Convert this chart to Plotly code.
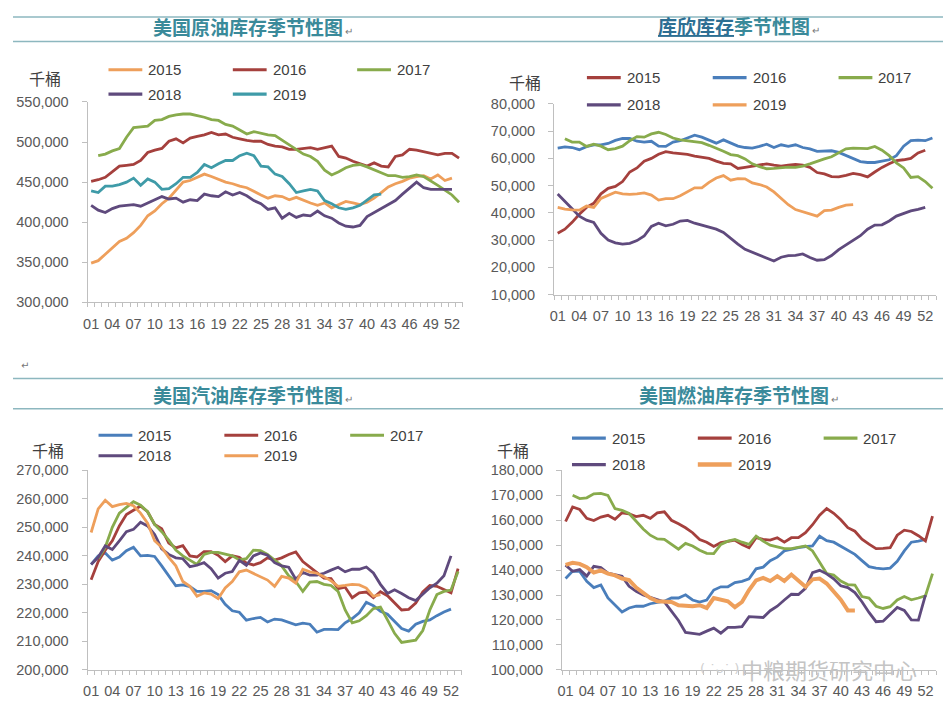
import plotly.graph_objects as go

# The page keeps the browser's default 8px body margin, so the figure is drawn
# 16px smaller than the window and every reference pixel is shifted by 8px.
WIN_W, WIN_H = 951, 719
PAD = 8
W, H = WIN_W - 2 * PAD, WIN_H - 2 * PAD

weeks = list(range(1, 54))
tick_vals = list(range(1, 53, 3))
tick_text = [f"{v:02d}" for v in tick_vals]
years = ["2015", "2016", "2017", "2018", "2019"]

# ---------------- US crude inventory (thousand barrels, read in thousands) -------------
crude_2015 = [349, 352, 360, 368, 376, 380, 387, 396, 408, 414, 423, 430, 440, 450, 452, 456, 460, 457, 453, 450,
              448, 445, 443, 438, 434, 430, 433, 432, 428, 431, 427, 424, 421, 424, 418, 422, 426, 424, 422, 425,
              430, 437, 444, 448, 451, 455, 457, 458, 454, 459, 452, 455]
crude_2016 = [451, 453, 456, 463, 470, 471, 472, 477, 487, 490, 492, 501, 504, 499, 505, 507, 509, 512, 509, 510,
              506, 504, 502, 501, 501, 497, 495, 494, 491, 491, 492, 493, 491, 493, 495, 482, 480, 476, 473, 470,
              474, 470, 469, 482, 484, 491, 490, 488, 486, 484, 486, 486, 480]
crude_2017 = [None, 483, 485, 489, 492, 506, 518, 519, 520, 527, 528, 532, 534, 535, 535, 533, 531, 528, 527, 522,
              520, 515, 510, 513, 511, 509, 508, 502, 496, 490, 485, 482, 476, 465, 459, 463, 468, 471, 472, 469,
              465, 461, 458, 458, 456, 457, 459, 457, 452, 446, 440, 434, 425]
crude_2018 = [421, 415, 412, 417, 420, 421, 422, 420, 424, 427, 432, 429, 430, 425, 428, 427, 435, 433, 432, 438,
              434, 437, 433, 427, 423, 416, 418, 405, 411, 406, 409, 408, 414, 408, 405, 399, 395, 394, 396, 407,
              412, 417, 421, 427, 435, 443, 450, 443, 441, 441, 441, 441]
crude_2019 = [439, 437, 445, 445, 447, 450, 455, 446, 454, 450, 441, 442, 448, 456, 456, 462, 472, 468, 473, 477,
              477, 483, 486, 483, 470, 469, 460, 457, 448, 437, 439, 441, 439, 427, 423, 418, 416, 418, 421, 427,
              434, 435]

# ---------------- Cushing inventory -------------
cush_2015 = [32.5, 34, 36.5, 39.5, 42, 43.5, 47, 49, 49.7, 51.5, 55, 56.5, 59, 60, 61.5, 62.5, 62, 61.8, 61.5, 60.8,
             60.5, 60, 59, 58.2, 58, 56.3, 56.7, 57.2, 57.6, 58, 57.5, 57.2, 57.5, 57.8, 57.5, 56.7, 54.8, 54.3, 53.3, 53.2,
             53.8, 54.5, 54, 53.2, 55, 56.7, 58, 59.2, 59.5, 60, 62, 63]
cush_2016 = [63.8, 64.2, 64, 63.2, 64.3, 65, 65, 65.5, 66.6, 67.3, 67.3, 66.3, 66, 66.3, 64.5, 64.4, 66, 66.5, 67.5, 68.5,
             67.8, 66.8, 65.6, 66.8, 65.6, 64.5, 64, 63.8, 64.4, 65.2, 64, 65, 64.4, 65, 64, 63.5, 62.6, 62.8, 62.8, 62.2,
             61, 60, 58.8, 58.5, 58.5, 59, 59.5, 61, 64.5, 66.5, 66.7, 66.5, 67.5]
cush_2017 = [None, 67.2, 66, 66, 64.4, 65.2, 64.5, 63.2, 63.6, 64.5, 66.5, 68, 67.8, 69, 69.6, 68.8, 67.5, 66.8, 66.5, 66.3,
             65.8, 64.8, 63.8, 62.6, 61.4, 61, 59.8, 58, 57, 56.2, 56.3, 56.6, 56.8, 56.7, 57.2, 58, 59, 59.8, 60.6, 62,
             63.5, 63.8, 63.6, 63.6, 64.4, 63, 61, 58.3, 56.5, 53, 53.3, 51.5, 49]
cush_2018 = [46.9, 44, 41.5, 38.8, 37.3, 36.5, 32.5, 30, 29, 28.5, 28.8, 29.8, 31.5, 35, 36.2, 35.2, 35.8, 37, 37.2, 36.2,
             35.4, 34.6, 34, 32.8, 30.6, 28.5, 26.6, 25.5, 24.6, 23.3, 22.3, 23.7, 24.3, 24.4, 24.9, 23.6, 22.6, 22.8, 24.3, 26.5,
             28.3, 29.8, 31.6, 34, 35.5, 35.6, 37, 38.8, 39.7, 40.7, 41.3, 42]
cush_2019 = [42, 41.4, 41.1, 41, 42.5, 42, 45.3, 46.5, 47.6, 47, 46.8, 47, 47.3, 46.5, 44.7, 45.2, 45.2, 46.3, 47.8, 49.2,
             49.2, 51.2, 52.8, 53.7, 52, 52.6, 52.5, 51, 50.4, 49.5, 47.7, 45.3, 43, 41.2, 40.4, 39.8, 38.8, 40.8, 41, 42,
             42.8, 43]

# ---------------- US gasoline inventory -------------
gas_2015 = [237, 240, 241, 238.5, 239.6, 241.8, 243, 240, 240.2, 239.8, 236.5, 233, 229.5, 229.8, 229.2, 227.5, 227.5, 227.8, 226.4, 223,
            220.7, 220.2, 217.4, 218, 218.4, 216.8, 217.8, 217.5, 216.6, 215.8, 216.4, 216, 213.2, 214.2, 214.2, 214.1, 216.5, 218, 220, 223.7,
            222.5, 220.5, 219.5, 217, 214.5, 213.6, 216, 217, 217.5, 219, 220.3, 221.3]
gas_2016 = [231.6, 238, 242, 245.3, 250.5, 254.5, 256, 257.5, 255.5, 251, 249.5, 244.5, 242.8, 243.6, 240, 239.6, 241.5, 241.5, 240.2, 238,
            240, 239.5, 237.5, 236.8, 237.6, 239.3, 238.5, 239.3, 240.5, 241.4, 238, 236, 234, 232.2, 232, 228.5, 229, 225.3, 227, 227.3,
            225.3, 227.4, 226, 223.5, 221, 221.2, 223.4, 227.3, 229.6, 229.3, 228.2, 227, 235.5]
gas_2017 = [None, 239, 243, 250, 255, 257, 259, 257.8, 255.5, 251, 248.5, 245.5, 242, 240, 238.5, 237, 240.5, 241.2, 241.2, 240.5,
            240, 238.6, 239, 242, 241.8, 240.5, 238.5, 236.5, 233, 231, 227.5, 230.8, 231, 230, 229.6, 227.5, 221, 216.5, 217.2, 219,
            221.5, 222, 217.5, 212.8, 209.6, 210.1, 210.4, 213.8, 221, 226.4, 227.5, 228, 234.5]
gas_2018 = [237, 239.5, 243.5, 242.2, 245.3, 248.5, 249.3, 251.8, 250.5, 247.5, 242.5, 240.5, 239.3, 239, 236.2, 236.7, 237.6, 235.5, 232.2, 233.9,
            234.5, 238.4, 236.7, 240, 241, 240.2, 237.6, 236.5, 236, 231.8, 234.2, 233.2, 233.2, 233.9, 235, 236, 234.4, 235.3, 235.3, 236.1,
            234, 230, 226.8, 228.1, 226.8, 225.3, 224.3, 226.4, 228.8, 230.4, 233, 240]
gas_2019 = [248.2, 256.5, 259.5, 257.3, 258, 258.4, 257.6, 255, 251.5, 245.3, 243, 239.5, 236.5, 231, 229.3, 225.8, 227, 226.6, 225, 228.7,
            231, 234.4, 235, 233.9, 232.8, 231.5, 229.3, 232.8, 232.2, 230.4, 235.3, 234.4, 233.9, 232.7, 231.2, 229.3, 229.6, 230, 229.8, 228.7,
            225.8, 226.4]

# ---------------- US distillate fuel oil inventory -------------
fuel_2015 = [136.6, 139.6, 139.5, 135.5, 133, 134, 128.8, 125.8, 123.2, 124.8, 125.5, 125.5, 126.5, 127, 127.5, 128.8, 128.8, 130.1, 128, 127.2,
             128, 132, 133.3, 133.3, 135, 135.5, 136.5, 140.5, 141.2, 143.8, 145.2, 147.7, 148.4, 149, 149.4, 149.7, 153.6, 151.8, 151.2, 149.5,
             148, 146.3, 143.8, 141.4, 140.8, 140.5, 140.8, 143.5, 147.7, 151.2, 151.6, 152.3]
fuel_2016 = [159.5, 165.3, 164.3, 160.8, 159.9, 161.3, 162, 160.4, 163, 162.6, 161.5, 162, 160.8, 163, 163.4, 160, 158.6, 157, 155, 152.3,
             151.2, 149.5, 151, 151.6, 152, 150.3, 149, 153, 152.3, 152, 153, 151.2, 153, 153, 155, 158.2, 162, 164.7, 162.8, 160.2,
             157, 155.6, 152.4, 150.4, 148.6, 148.7, 149, 154, 156, 155.5, 153.8, 151.7, 161.7]
fuel_2017 = [None, 170, 168.7, 169, 170.6, 170.8, 170, 164.7, 164, 162.7, 159.5, 156.5, 154, 152.5, 152.3, 150.3, 148.4, 150.7, 149.7, 148,
             146.7, 146.6, 150.3, 151.6, 152.3, 151.2, 150.3, 153.6, 151.6, 150, 149.4, 148.6, 148.6, 149, 149.7, 147.7, 143, 138.6, 138, 135.6,
             134.2, 134, 129.4, 128.8, 125.5, 124.6, 125.3, 128, 129.4, 128.1, 128.8, 129.7, 138.6]
fuel_2018 = [142, 139.5, 140.2, 137.6, 141.5, 141, 138.8, 138, 137.5, 133.5, 131.5, 130, 129, 128.2, 127.2, 123.5, 119.8, 115, 114.7, 114.2,
             115.5, 116.7, 114.7, 117, 117, 117.3, 121.3, 121.2, 121, 123.7, 125.5, 128, 130.3, 130.2, 132.7, 139, 139.9, 138.5, 136.5, 133.7,
             133, 131, 127.3, 123, 119.3, 119.5, 122.4, 125, 123.8, 120, 119.9, 130]
fuel_2019 = [142.1, 142.9, 142.5, 141.2, 139, 139.9, 138.6, 137.9, 136.6, 136, 133, 131, 128.8, 127.5, 127.2, 127.2, 125.9, 125.5, 125.5, 125.9,
             124.8, 128.8, 128, 127.5, 125.1, 127.2, 132, 135.9, 136.9, 135.6, 137.6, 135.6, 138.2, 135.6, 133.3, 136.3, 136.6, 134.6, 131.4, 128.1,
             123.8, 123.8]

titles = ["美国原油库存季节性图", "库欣库存季节性图", "美国汽油库存季节性图", "美国燃油库存季节性图"]
unit_label = "千桶"
watermark = "中粮期货研究中心"

ORANGE = "#EE9F5B"
RED = "#A5403D"
GREEN = "#88AB4C"
PURPLE = "#5F4A7D"
TEAL = "#3F9BA8"
BLUE = "#4A7EBB"

panels = [
    dict(series=[crude_2015, crude_2016, crude_2017, crude_2018, crude_2019],
         colors=[ORANGE, RED, GREEN, PURPLE, TEAL], widths=[2.8] * 5,
         xpx=(83, 460), ypx=(96, 301), rng=(300000, 550000), dtick=50000,
         leg_x=104, leg_rows=(63, 88), leg_step=125, unit_xy=(40, 71), title_xy=(243, 19)),
    dict(series=[cush_2015, cush_2016, cush_2017, cush_2018, cush_2019],
         colors=[RED, BLUE, GREEN, PURPLE, ORANGE], widths=[2.8] * 5,
         xpx=(552, 936), ypx=(98, 293), rng=(10000, 80000), dtick=10000,
         leg_x=585, leg_rows=(71, 99), leg_step=126.5, unit_xy=(523, 76), title_xy=(732, 18)),
    dict(series=[gas_2015, gas_2016, gas_2017, gas_2018, gas_2019],
         colors=[BLUE, RED, GREEN, PURPLE, ORANGE], widths=[2.8] * 5,
         xpx=(83, 459), ypx=(473, 677), rng=(200000, 270000), dtick=10000,
         leg_x=94, leg_rows=(437, 458), leg_step=126.5, unit_xy=(43, 452), title_xy=(243, 395)),
    dict(series=[fuel_2015, fuel_2016, fuel_2017, fuel_2018, fuel_2019],
         colors=[BLUE, RED, GREEN, PURPLE, ORANGE], widths=[2.8, 2.8, 2.8, 2.8, 4],
         xpx=(560, 936), ypx=(473, 677), rng=(100000, 180000), dtick=10000,
         leg_x=570, leg_rows=(440, 467), leg_step=126.5, unit_xy=(511, 452), title_xy=(732, 395)),
]

NUM_FONT = "Liberation Sans, Arial, sans-serif"
CJK_FONT = "Noto Sans CJK SC, sans-serif"
AXIS_GRAY = "#BFBFBF"


def fx(p):
    return (p - PAD) / W


def fy(p):
    return 1 - (p - PAD) / H


fig = go.Figure()
layout = dict(
    width=W, height=H, margin=dict(l=0, r=0, t=0, b=0),
    paper_bgcolor="white", plot_bgcolor="white", showlegend=False,
)
annotations = []
shapes = []

for i, p in enumerate(panels):
    n = "" if i == 0 else str(i + 1)
    for k, (yr, vals, col, wd) in enumerate(zip(years, p["series"], p["colors"], p["widths"])):
        fig.add_trace(go.Scatter(
            x=weeks[:len(vals)],
            y=[None if v is None else v * 1000 for v in vals],
            mode="lines", name=yr, line=dict(color=col, width=wd),
            xaxis="x" + n, yaxis="y" + n, hoverinfo="skip", showlegend=False,
        ))
        # legend key (line sample + label)
        row, colm = divmod(k, 3)
        lx = p["leg_x"] + colm * p["leg_step"]
        ly = p["leg_rows"][row]
        shapes.append(dict(type="line", xref="paper", yref="paper",
                           x0=fx(lx), x1=fx(lx + 34), y0=fy(ly), y1=fy(ly),
                           line=dict(color=col, width=wd + 0.4)))
        annotations.append(dict(x=fx(lx + 38), y=fy(ly), xref="paper", yref="paper", text=yr,
                                showarrow=False, xanchor="left", yanchor="middle",
                                font=dict(family=NUM_FONT, size=15, color="#404040")))
    layout["xaxis" + n] = dict(
        domain=[fx(p["xpx"][0]), fx(p["xpx"][1])], anchor="y" + n,
        range=[0.5, 53.5], tickmode="array", tickvals=tick_vals, ticktext=tick_text,
        ticks="", showline=True, linecolor=AXIS_GRAY, linewidth=1, showgrid=False, zeroline=False,
        tickfont=dict(family=NUM_FONT, size=14.5, color="#595959"), ticklabelstandoff=8,
        minor=dict(ticks="outside", tickmode="linear", tick0=0.5, dtick=1, ticklen=4,
                   tickcolor=AXIS_GRAY, showgrid=False),
    )
    layout["yaxis" + n] = dict(
        domain=[fy(p["ypx"][1]), fy(p["ypx"][0])], anchor="x" + n,
        range=list(p["rng"]), dtick=p["dtick"], tick0=p["rng"][0], tickformat=",d",
        showline=True, linecolor=AXIS_GRAY, linewidth=1, showgrid=False, zeroline=False,
        ticks="outside", ticklen=5, tickcolor=AXIS_GRAY,
        tickfont=dict(family=NUM_FONT, size=14.5, color="#595959"), ticklabelstandoff=10,
    )
    ux, uy = p["unit_xy"]
    annotations.append(dict(
        x=fx(ux), y=fy(uy), xref="paper", yref="paper", text=unit_label, showarrow=False,
        xanchor="center", yanchor="middle",
        font=dict(family=CJK_FONT, size=16, color="#404040"),
    ))
    tx, ty = p["title_xy"]
    if i == 1:
        ttxt = ('<span style="text-decoration:underline;color:#2D6F93">' + titles[i][:4] + '</span>'
                + titles[i][4:])
    else:
        ttxt = titles[i]
    ttxt = "<b>" + ttxt + "</b>" + '<span style="font-size:10px;color:#777777"> ↵</span>'
    annotations.append(dict(
        x=fx(tx + 6), y=fy(ty), xref="paper", yref="paper", text=ttxt, showarrow=False,
        xanchor="center", yanchor="middle",
        font=dict(family=CJK_FONT, size=19, color="#3A8A9A"),
    ))

# title bar rules (the very top one sits at the upper edge of the figure)
for ypx in (9, 34, 379, 410):
    shapes.append(dict(type="line", xref="paper", yref="paper", x0=0, x1=1,
                       y0=fy(ypx), y1=fy(ypx), line=dict(color="#8DB7BF", width=1.5)))

# stray paragraph mark and watermark
annotations.append(dict(x=fx(14), y=fy(366), xref="paper", yref="paper", text="↵", showarrow=False,
                        font=dict(family="DejaVu Sans", size=10, color="#777777")))
annotations.append(dict(x=fx(828), y=fy(676), xref="paper", yref="paper", text=watermark, showarrow=False,
                        xanchor="center", yanchor="middle",
                        font=dict(family=CJK_FONT, size=22, color="#C4C4C4")))
annotations.append(dict(x=fx(718), y=fy(676), xref="paper", yref="paper", text="( ˙ᴗ˙ )", showarrow=False,
                        xanchor="center", yanchor="middle",
                        font=dict(family="DejaVu Sans", size=13, color="#CFCFCF")))

layout["annotations"] = annotations
layout["shapes"] = shapes
fig.update_layout(**layout)
fig.write_html("out.html", config={"displayModeBar": False, "staticPlot": True})
